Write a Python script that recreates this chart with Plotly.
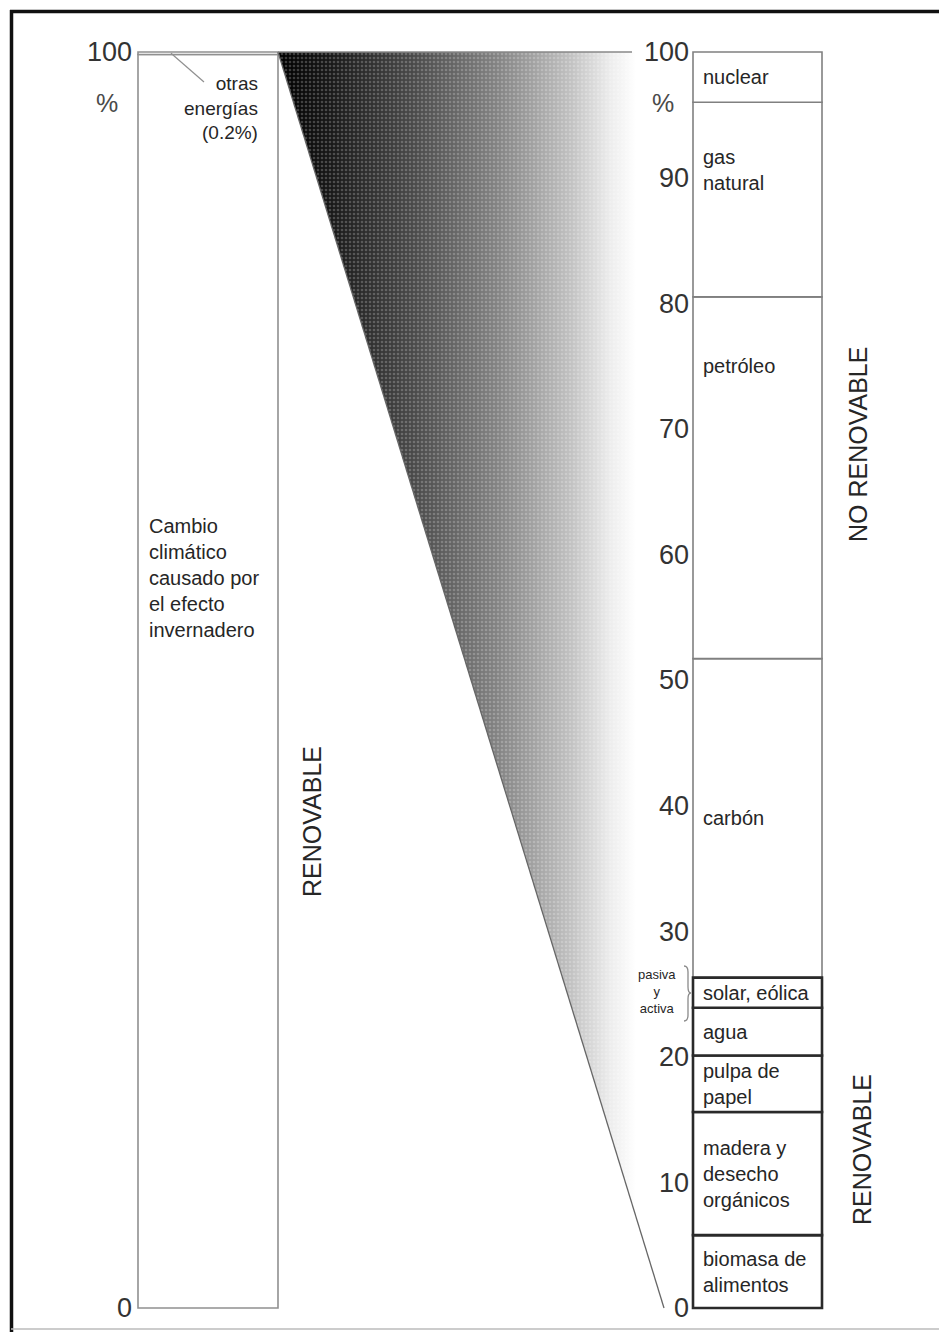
import plotly.graph_objects as go

# ---------------- data ----------------
left_categories = ["Cambio<br>climático<br>causado por<br>el efecto<br>invernadero", "otras<br>energías<br>(0.2%)"]
left_values = [99.8, 0.2]

right_categories = ["biomasa de<br>alimentos", "madera y<br>desecho<br>orgánicos", "pulpa de<br>papel",
                    "agua", "solar, eólica", "carbón", "petróleo", "gas<br>natural", "nuclear"]
right_values = [5.8, 9.8, 4.5, 3.8, 2.4, 25.4, 28.8, 15.5, 4.0]
right_renewable = [True, True, True, True, True, False, False, False, False]

right_tick_values = [0, 10, 20, 30, 40, 50, 60, 70, 80, 90, 100]
left_tick_values = [0, 100]

# ---------------- layout constants ----------------
# The page body has an 8 px margin, so canvas positions are given in
# reference-picture pixels and shifted by OFF.
OFF = 8
W, H = 947 - OFF, 1332 - OFF
PX0, PX100 = 1308, 52              # reference pixel rows of 0 % and 100 %
PPU = (PX0 - PX100) / 100.0
y_top = (PX0 - OFF) / PPU
y_bot = -(H - (PX0 - OFF)) / PPU


def X(px):
    return px - OFF


def yv(px):
    """reference pixel row -> axis value"""
    return (PX0 - px) / PPU


def pf_x(px):
    return (px - OFF) / W


def pf_y(py):
    return 1 - (py - OFF) / H


LB_X0, LB_X1 = 138, 278     # left bar
RB_X0, RB_X1 = 693, 822     # right bar
WEDGE_R = 636               # right edge of the shaded wedge at top
APEX_X = 664

FONT = "Liberation Sans, Arial, sans-serif"
TXT = "#262626"

fig = go.Figure()

total_left = sum(left_values)

# ---------------- shaded wedge ----------------
wx = [X(LB_X1), X(WEDGE_R), X(APEX_X), X(LB_X1)]
wy = [total_left, total_left, 0, total_left]
fig.add_trace(go.Scatter(
    x=wx, y=wy, mode="lines", fill="toself", line=dict(width=0, color="rgba(0,0,0,0)"),
    fillgradient=dict(type="horizontal", start=X(LB_X1), stop=X(WEDGE_R),
                      colorscale=[[0, "#000000"], [0.14, "#171717"], [0.38, "#4a4a4a"],
                                  [0.62, "#858585"], [0.82, "#c2c2c2"], [0.93, "#ededed"],
                                  [1, "#ffffff"]]),
    hoverinfo="skip", showlegend=False))
# stipple texture over the gradient
fig.add_trace(go.Scatter(
    x=wx, y=wy, mode="lines", fill="toself", line=dict(width=0, color="rgba(0,0,0,0)"),
    fillcolor="rgba(0,0,0,0)",
    fillpattern=dict(shape=".", fgcolor="rgba(255,255,255,0.45)", size=4, solidity=0.35),
    hoverinfo="skip", showlegend=False))
# diagonal edge
fig.add_trace(go.Scatter(x=[X(LB_X1), X(APEX_X)], y=[total_left, 0], mode="lines",
                         line=dict(color="#666666", width=1.3), hoverinfo="skip", showlegend=False))
# top edge line of wedge
fig.add_trace(go.Scatter(x=[X(LB_X1), X(WEDGE_R - 4)], y=[total_left, total_left], mode="lines",
                         line=dict(color="#888888", width=1.5), hoverinfo="skip", showlegend=False))

# ---------------- left bar ----------------
base = 0.0
for cat, val in zip(left_categories, left_values):
    fig.add_trace(go.Bar(x=[X((LB_X0 + LB_X1) / 2)], y=[val], base=[base], width=[LB_X1 - LB_X0],
                         marker=dict(color="white", line=dict(color="#909090", width=1.6)),
                         name=cat.replace("<br>", " "), showlegend=False, hoverinfo="skip"))
    base += val

# ---------------- right bar (on the right-hand axis) ----------------
cum = [0.0]
for v in right_values:
    cum.append(cum[-1] + v)

order = [i for i in range(len(right_values)) if not right_renewable[i]] + \
        [i for i in range(len(right_values)) if right_renewable[i]]
for i in order:
    ren = right_renewable[i]
    fig.add_trace(go.Bar(x=[X((RB_X0 + RB_X1) / 2)], y=[right_values[i]], base=[cum[i]],
                         width=[RB_X1 - RB_X0], yaxis="y2",
                         marker=dict(color="white",
                                     line=dict(color="#2a2a2a" if ren else "#808080",
                                               width=2.6 if ren else 1.6)),
                         name=right_categories[i].replace("<br>", " "),
                         showlegend=False, hoverinfo="skip"))

# segment labels
top_offsets = {"gas<br>natural": 42, "petróleo": 56}
for i, cat in enumerate(right_categories):
    if cat in top_offsets:
        fig.add_annotation(x=X(RB_X0 + 8), y=cum[i + 1], xref="x", yref="y", text=cat,
                           xanchor="left", yanchor="top", yshift=-top_offsets[cat],
                           align="left", showarrow=False,
                           font=dict(family=FONT, size=20, color=TXT))
    else:
        fig.add_annotation(x=X(RB_X0 + 8), y=(cum[i] + cum[i + 1]) / 2, xref="x", yref="y", text=cat,
                           xanchor="left", yanchor="middle", align="left", showarrow=False,
                           font=dict(family=FONT, size=20, color=TXT))

# left bar labels
fig.add_annotation(x=X(LB_X0 + 9), y=yv(578), text=left_categories[0], xanchor="left", yanchor="middle",
                   align="left", showarrow=False, font=dict(family=FONT, size=20, color=TXT))
fig.add_annotation(x=X(LB_X1 - 18), y=yv(108), text=left_categories[1], xanchor="right", yanchor="middle",
                   align="right", showarrow=False, font=dict(family=FONT, size=19, color=TXT))
fig.add_shape(type="line", xref="x", yref="y", x0=X(171), y0=total_left - left_values[1] / 2,
              x1=X(204), y1=yv(82), line=dict(color="#909090", width=1.2))

# percent signs
for xp in (107, 663):
    fig.add_annotation(x=X(xp), y=yv(103), text="%", showarrow=False,
                       font=dict(family=FONT, size=25, color="#4a4a4a"))

# pasiva y activa + brace
fig.add_annotation(x=X(657), y=yv(991), text="pasiva<br>y<br>activa", showarrow=False, align="center",
                   font=dict(family=FONT, size=13, color=TXT))
bx, by0, bym, by1 = X(684), yv(966), yv(993), yv(1021)
bxm = X(688)
brace = (f"M {bx},{by0} Q {bxm},{by0} {bxm},{yv(972)} L {bxm},{yv(987)} "
         f"Q {bxm},{bym} {X(691)},{bym} Q {bxm},{bym} {bxm},{yv(999)} "
         f"L {bxm},{yv(1015)} Q {bxm},{by1} {bx},{by1}")
fig.add_shape(type="path", xref="x", yref="y", path=brace, line=dict(color="#8a8a8a", width=1.3))

# vertical titles
fig.add_annotation(x=X(312), y=yv(822), text="RENOVABLE", textangle=-90, showarrow=False,
                   font=dict(family=FONT, size=25, color=TXT))
fig.add_annotation(x=X(858), y=yv(445), text="NO RENOVABLE", textangle=-90, showarrow=False,
                   font=dict(family=FONT, size=25, color=TXT))
fig.add_annotation(x=X(862), y=yv(1150), text="RENOVABLE", textangle=-90, showarrow=False,
                   font=dict(family=FONT, size=25, color=TXT))

# frame
fig.add_shape(type="line", xref="paper", yref="paper", x0=pf_x(10), x1=pf_x(945), y0=pf_y(11.5), y1=pf_y(11.5),
              line=dict(color="#111111", width=3.5))
fig.add_shape(type="line", xref="paper", yref="paper", x0=pf_x(11.5), x1=pf_x(11.5), y0=pf_y(10), y1=0,
              line=dict(color="#111111", width=3.5))
fig.add_shape(type="line", xref="paper", yref="paper", x0=pf_x(11), x1=pf_x(944), y0=pf_y(1329), y1=pf_y(1329),
              line=dict(color="#bbbbbb", width=1.5))
fig.add_shape(type="line", xref="paper", yref="paper", x0=pf_x(942), x1=pf_x(942), y0=pf_y(10), y1=0,
              line=dict(color="#dddddd", width=1.5))

tickfont = dict(family=FONT, size=27, color="#333333")
fig.update_layout(
    width=W, height=H, margin=dict(l=0, r=0, t=0, b=0),
    paper_bgcolor="white", plot_bgcolor="white", showlegend=False, barmode="overlay",
    xaxis=dict(range=[0, W], visible=False, fixedrange=True),
    yaxis=dict(range=[y_bot, y_top], anchor="free", position=pf_x(132), side="left",
               tickmode="array", tickvals=left_tick_values, ticktext=[str(v) for v in left_tick_values],
               showgrid=False, zeroline=False, showline=False, ticks="", tickfont=tickfont,
               fixedrange=True),
    yaxis2=dict(range=[y_bot, y_top], overlaying="y", anchor="free", position=pf_x(689), side="left",
                tickmode="array", tickvals=right_tick_values, ticktext=[str(v) for v in right_tick_values],
                showgrid=False, zeroline=False, showline=False, ticks="", tickfont=tickfont,
                fixedrange=True),
)

fig.write_html("out.html")
